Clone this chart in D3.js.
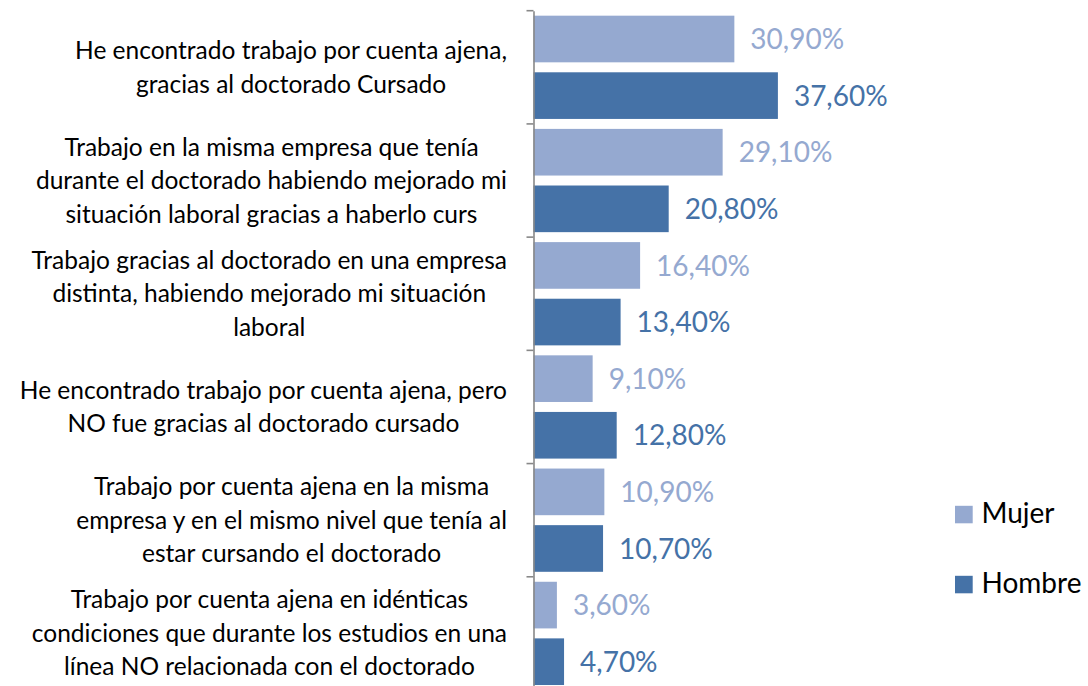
<!DOCTYPE html>
<html>
<head>
<meta charset="utf-8">
<script src="https://cdn.jsdelivr.net/npm/d3@7"></script>
<style>
  html, body { margin: 0; padding: 0; background: #fff; }
  svg { display: block; }
  text { font-family: Lato, "Open Sans", sans-serif; }
</style>
</head>
<body>
<svg id="chart" width="1088" height="686"></svg>
<script>
// ---- data ----
const categories = [
  ["He encontrado trabajo por cuenta ajena,", "gracias al doctorado Cursado"],
  ["Trabajo en la misma empresa que tenía", "durante el doctorado habiendo mejorado mi", "situación laboral gracias a haberlo curs"],
  ["Trabajo gracias al doctorado en una empresa", "distinta, habiendo mejorado mi situación", "laboral"],
  ["He encontrado trabajo por cuenta ajena, pero", "NO fue gracias al doctorado cursado"],
  ["Trabajo por cuenta ajena en la misma", "empresa y en el mismo nivel que tenía al", "estar cursando el doctorado"],
  ["Trabajo por cuenta ajena en idénticas", "condiciones que durante los estudios en una", "línea NO relacionada con el doctorado"]
];
const seriesNames = ["Mujer", "Hombre"];
const mujer = [30.9, 29.1, 16.4, 9.1, 10.9, 3.6];
const hombre = [37.6, 20.8, 13.4, 12.8, 10.7, 4.7];
const colors = ["#95A9D0", "#4572A7"];

// ---- layout ----
const svg = d3.select("#chart");
const axisX = 533.5;
const catIdx = categories.map((d, i) => i);

const y = d3.scaleBand().domain(catIdx).range([10.7, 690]).paddingInner(0).paddingOuter(0);
const ySub = d3.scaleBand().domain(seriesNames).range([0, y.bandwidth()])
  .paddingInner(0.176).paddingOuter(0.088);
const x = d3.scaleLinear().domain([0, 40]).range([axisX, axisX + 260]);

const fmt = v => d3.format(".2f")(v).replace(".", ",") + "%";

const rows = catIdx.map(i => ({ i, values: [mujer[i], hombre[i]] }));

// bars
const g = svg.append("g");
rows.forEach(r => {
  r.values.forEach((v, s) => {
    const by = y(r.i) + ySub(seriesNames[s]);
    g.append("rect")
      .attr("x", x(0))
      .attr("y", by)
      .attr("width", x(v) - x(0))
      .attr("height", ySub.bandwidth())
      .attr("fill", colors[s]);
    g.append("text")
      .attr("x", x(v) + 16)
      .attr("y", by + ySub.bandwidth() / 2)
      .attr("dy", "0.36em")
      .attr("fill", colors[s])
      .style("font-size", "28px")
      .text(fmt(v));
  });
});

// axis
const axis = d3.axisLeft(y).tickValues([]).tickSizeOuter(0);
const ag = svg.append("g").attr("transform", `translate(${axisX},0)`).call(axis);
ag.select(".domain").attr("stroke", "#888").attr("stroke-width", 1.6);
ag.selectAll(".bnd").data(catIdx.concat([categories.length])).enter().append("line")
  .attr("class", "bnd")
  .attr("x1", -7).attr("x2", 0)
  .attr("y1", d => d < categories.length ? y(d) : y.range()[1])
  .attr("y2", d => d < categories.length ? y(d) : y.range()[1])
  .attr("stroke", "#888").attr("stroke-width", 1.6);

// category labels
const lineH = 33.5;
const rightEdge = 507;
categories.forEach((lines, i) => {
  const c = y(i) + y.bandwidth() / 2;
  const tg = svg.append("g");
  const texts = lines.map((ln, k) => tg.append("text")
    .attr("y", c + (k - (lines.length - 1) / 2) * lineH + 8.5)
    .attr("text-anchor", "middle")
    .attr("fill", "#000")
    .style("font-size", "24.5px")
    .text(ln));
  const maxW = d3.max(texts, t => t.node().getComputedTextLength());
  texts.forEach(t => t.attr("x", rightEdge - maxW / 2));
});

// legend
const legY = [523.3, 593.3];
seriesNames.forEach((n, s) => {
  svg.append("rect")
    .attr("x", 955).attr("y", legY[s] - 17.5)
    .attr("width", 17.7).attr("height", 17.5)
    .attr("fill", colors[s]);
  svg.append("text")
    .attr("x", 981.5).attr("y", legY[s])
    .attr("fill", "#000")
    .style("font-size", "28px")
    .text(n);
});
</script>
</body>
</html>
